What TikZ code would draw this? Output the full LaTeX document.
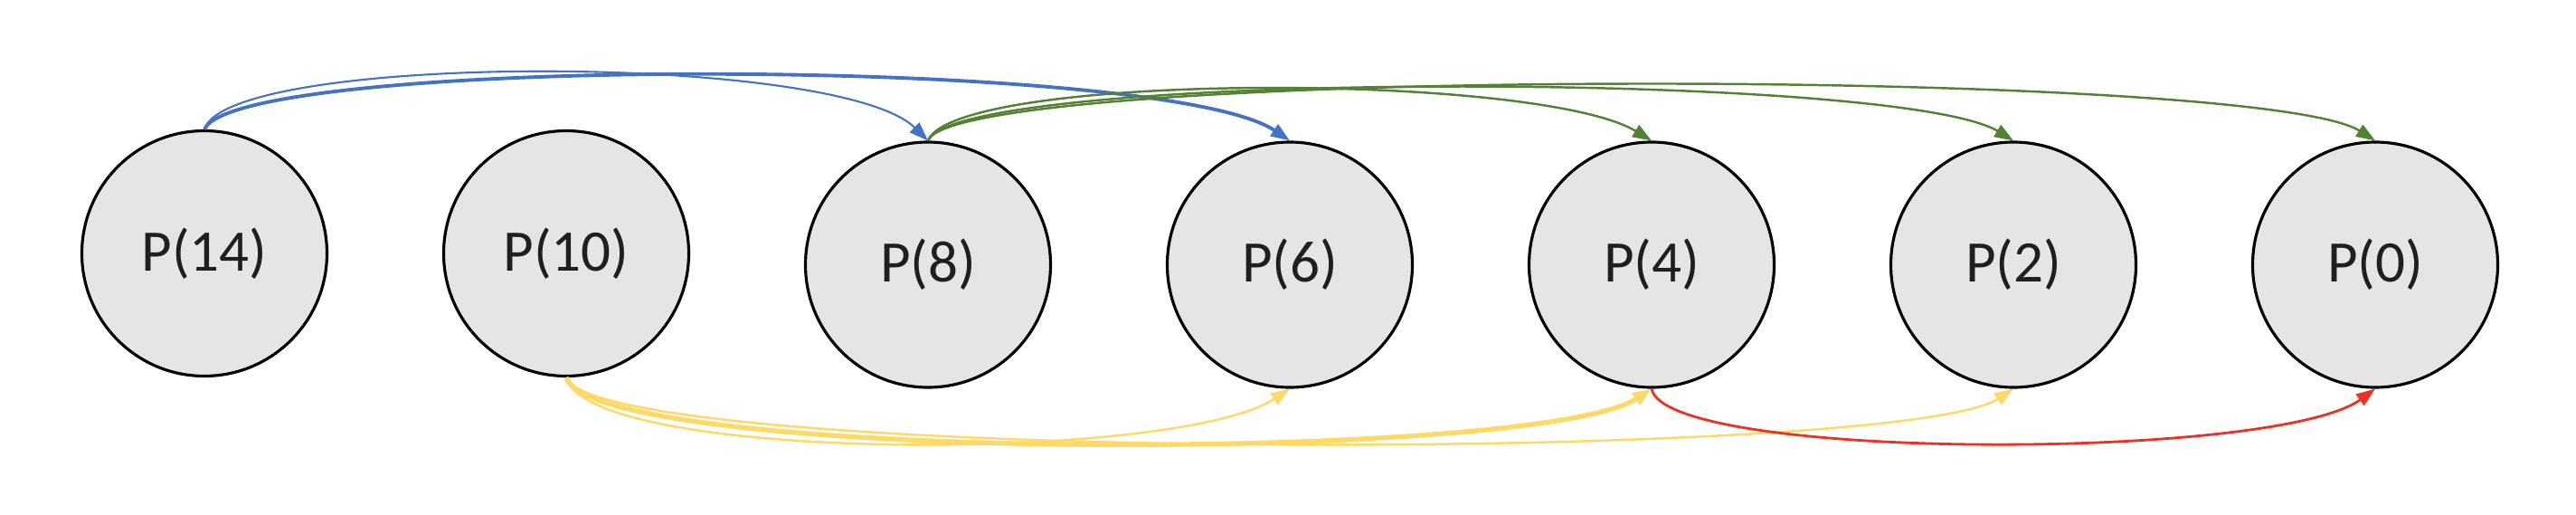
\documentclass[tikz,border=0pt]{standalone}
\usepackage{fontspec}
\setmainfont{Carlito}
\usetikzlibrary{arrows.meta}
\definecolor{pblue}{HTML}{4472C4}
\definecolor{pgreen}{HTML}{548235}
\definecolor{pyellow}{HTML}{FFD966}
\definecolor{pred}{HTML}{EE3124}

\begin{document}
\begin{tikzpicture}[>={Triangle[length=2.1mm,width=1.5mm]},node distance=4cm,
	proc/.style={circle,draw=black,line width=0.9pt,fill=black!10,minimum size=2.71cm,inner sep=0pt,
		text=black!88,font=\fontsize{18.5}{22}\selectfont}]
	\useasboundingbox (0,0) rectangle (28.48,5.68);
  			\node[proc]  (p14) at (2.26,2.88) {P(14)};
  			\node[proc]  (p10) [right of=p14]  {P(10)};
  			\node[proc]  (p8) [right of=p10,yshift=-1.25mm] {P(8)};
  			\node[proc]  (p6) [right of=p8] {P(6)};
  			\node[proc]  (p4) [right of=p6] {P(4)};
  			\node[proc]  (p2) [right of=p4] {P(2)};
  			\node[proc]  (p0) [right of=p2] {P(0)};

			% top
  			\draw[->,pblue,line width=0.6pt] (p14.north) .. controls +(0.25,0.85) and +(-1.0,0.98) .. (p8.north);
  			\draw[->,pblue,line width=1.1pt] (p14.north) .. controls +(0.35,0.82) and +(-1.4,0.94) .. (p6.north);
  			\draw[->,pgreen,line width=0.7pt] (p8.north) .. controls +(0.3,0.76) and +(-1.26,0.76) .. (p4.north);
  			\draw[->,pgreen,line width=0.7pt] (p8.north) .. controls +(0.3,0.78) and +(-1.3,0.78) .. (p2.north);
  			\draw[->,pgreen,line width=0.7pt] (p8.north) .. controls +(0.3,0.82) and +(-1.3,0.82) .. (p0.north);

			% bottom
  			\draw[->,pyellow,line width=0.7pt] (p10.south) .. controls +(0.25,-0.95) and +(-1.26,-0.82) .. (p6.south);
  			\draw[->,pyellow,line width=1.5pt] (p10.south) .. controls +(0.3,-0.95) and +(-1.26,-0.82) .. (p4.south);
  			\draw[->,pyellow,line width=0.7pt] (p10.south) .. controls +(0.35,-0.95) and +(-1.26,-0.82) .. (p2.south);
  			\draw[->,pred,line width=0.8pt] (p4.south) .. controls +(0.15,-0.8) and +(-1.1,-0.8) .. (p0.south);
\end{tikzpicture}
\end{document}
